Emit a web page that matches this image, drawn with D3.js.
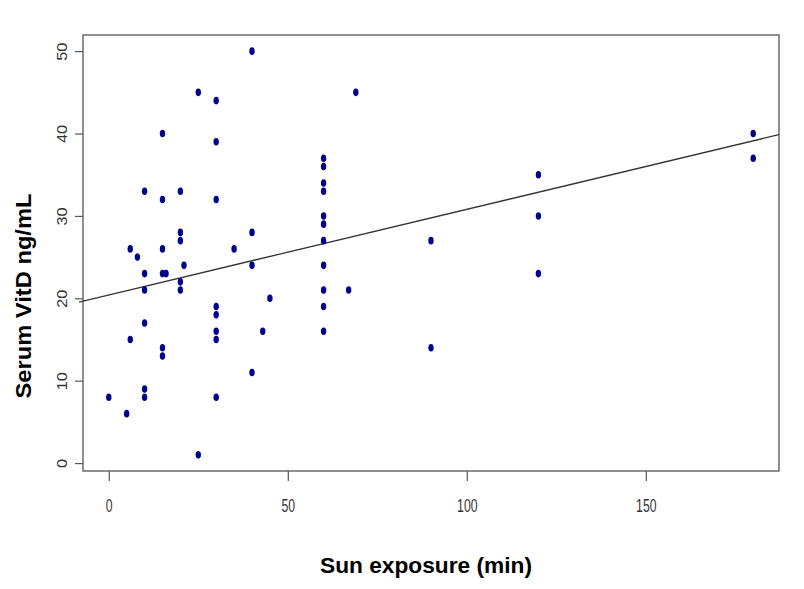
<!DOCTYPE html>
<html><head><meta charset="utf-8">
<script src="https://cdn.jsdelivr.net/npm/d3@7"></script>
<style>body{margin:0;background:#fff}svg{display:block}</style>
</head><body>
<svg id="c" width="804" height="589"></svg>
<script>
const sunMinutes = [40,25,30,15,30,60,60,60,60,10,20,15,30,60,60,20,20,40,60,6,8,15,35,
  10,15,16,21,20,20,10,40,60,60,60,60,45,30,30,30,30,43,10,6,15,15,40,10,10,0,5,30,25,
  69,67,90,90,120,120,120,180,180];
const vitD = [50,45,44,40,39,37,36,34,33,33,33,32,32,30,29,28,27,28,27,26,25,26,26,
  23,23,23,24,22,21,21,24,24,21,19,16,20,19,18,16,15,16,17,15,14,13,11,9,8,8,6,8,1,
  45,21,27,14,35,30,23,40,37];
const xTicks = [0,50,100,150];
const yTicks = [0,10,20,30,40,50];
const fitIntercept = 20.4;
const fitSlope = 0.104;

const FONT = "Arial, 'Liberation Sans', sans-serif";
const svg = d3.select("#c");
const L = 83, R = 779, T = 35, B = 471;
const x = d3.scaleLinear().domain([-7.2,187.2]).range([L,R]);
const y = d3.scaleLinear().domain([-0.96,51.96]).range([B,T]);

// box
svg.append("rect").attr("x",L).attr("y",T).attr("width",R-L).attr("height",B-T)
  .attr("fill","none").attr("stroke","#555").attr("stroke-width",1.3);

// x axis
const xa = svg.append("g").attr("transform",`translate(0,${B})`)
  .call(d3.axisBottom(x).tickValues(xTicks).tickSize(10).tickFormat(d3.format("d")));
xa.select(".domain").remove();
xa.selectAll(".tick line").attr("stroke","#555").attr("stroke-width",1.2);
xa.selectAll(".tick text").remove();
xa.selectAll(".tick").append("text")
  .attr("transform","translate(0,41) scale(0.68,1)")
  .attr("text-anchor","middle").attr("fill","#333")
  .style("font-family",FONT).style("font-size","18px")
  .text(d=>d);

// y axis
const ya = svg.append("g").attr("transform",`translate(${L},0)`)
  .call(d3.axisLeft(y).tickValues(yTicks).tickSize(8).tickFormat(d3.format("d")));
ya.select(".domain").remove();
ya.selectAll(".tick line").attr("stroke","#555").attr("stroke-width",1.2);
ya.selectAll(".tick text").remove();
ya.selectAll(".tick").append("text")
  .attr("transform","translate(-16,0) rotate(-90) scale(1.16,1)")
  .attr("text-anchor","middle").attr("fill","#333")
  .style("font-family",FONT).style("font-size","14px")
  .text(d=>d);

// regression line
svg.append("clipPath").attr("id","clip").append("rect")
  .attr("x",L-4).attr("y",T).attr("width",R-L+4).attr("height",B-T);
const xd = [x.invert(L-4), x.domain()[1]];
svg.append("line").attr("clip-path","url(#clip)")
  .attr("x1",x(xd[0])).attr("y1",y(fitIntercept+fitSlope*xd[0]))
  .attr("x2",x(xd[1])).attr("y2",y(fitIntercept+fitSlope*xd[1]))
  .attr("stroke","#333").attr("stroke-width",1.3);

// points
svg.append("g").selectAll("ellipse").data(sunMinutes.map((s,i)=>[s,vitD[i]])).join("ellipse")
  .attr("cx",d=>x(d[0])).attr("cy",d=>y(d[1])).attr("rx",2.7).attr("ry",3.8)
  .attr("fill","#00008B");

// titles
svg.append("text").attr("x",426).attr("y",573).attr("text-anchor","middle")
  .attr("textLength",212).attr("lengthAdjust","spacingAndGlyphs")
  .style("font-family",FONT).style("font-weight","bold")
  .style("font-size","22px").attr("fill","#000")
  .text("Sun exposure (min)");
svg.append("text").attr("transform","translate(31,296) rotate(-90)").attr("text-anchor","middle")
  .attr("textLength",205).attr("lengthAdjust","spacingAndGlyphs")
  .style("font-family",FONT).style("font-weight","bold")
  .style("font-size","22px").attr("fill","#000")
  .text("Serum VitD ng/mL");
</script>
</body></html>
